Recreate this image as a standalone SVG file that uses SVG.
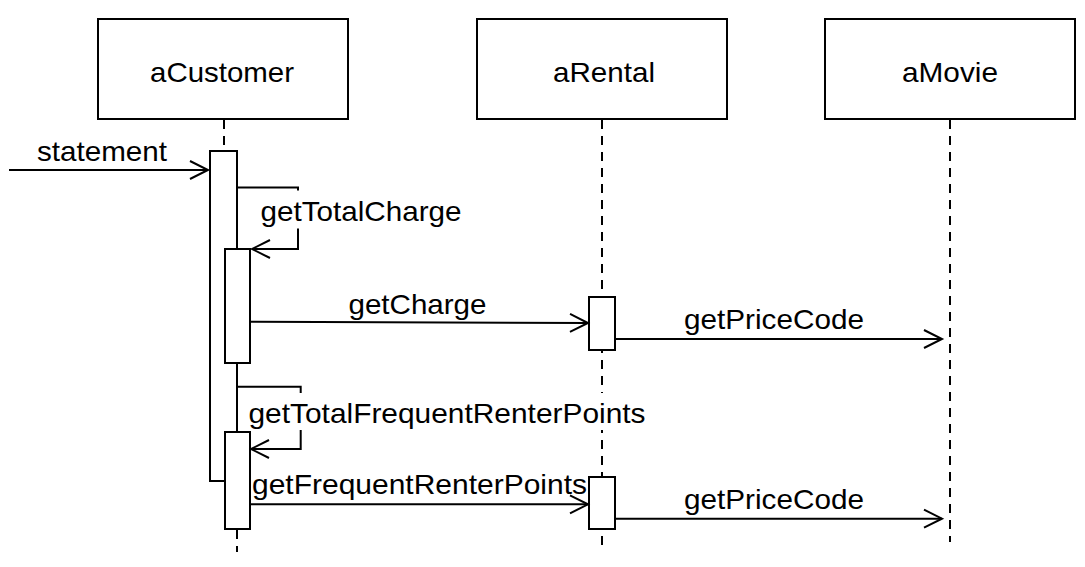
<svg xmlns="http://www.w3.org/2000/svg" width="1085" height="567" viewBox="0 0 1085 567">
<style>
  .box { fill: #fff; stroke: #000; stroke-width: 2; }
  .act { fill: #fff; stroke: #000; stroke-width: 2; }
  .life { fill: none; stroke: #000; stroke-width: 2; stroke-dasharray: 9 7; }
  .msg { fill: none; stroke: #000; stroke-width: 2; marker-end: url(#open); }
  .txt { font-family: "Liberation Sans", Arial, sans-serif; font-size: 28px; fill: #000; }
  .bg { fill: #fff; stroke: none; }
</style>
<defs>
  <marker id="open" markerUnits="userSpaceOnUse" markerWidth="22" markerHeight="22" refX="18" refY="10" orient="auto" overflow="visible">
    <path d="M0,1 L18,10 L0,19" fill="none" stroke="#000" stroke-width="2"/>
  </marker>
</defs>
<rect width="1085" height="567" fill="#fff"/>

<g id="aCustomer">
  <rect class="box" x="98" y="19" width="250" height="100"/>
  <text class="txt" x="222" y="82" text-anchor="middle" textLength="144" lengthAdjust="spacingAndGlyphs">aCustomer</text>
  <line class="life" x1="224" y1="120" x2="224" y2="151"/>
  <line class="life" x1="237" y1="530" x2="237" y2="552"/>
  <rect class="act" x="210" y="151" width="27" height="330"/>
  <rect class="act" x="225" y="249" width="25" height="114"/>
  <rect class="act" x="225" y="432" width="25" height="97"/>
</g>

<g id="aRental">
  <rect class="box" x="477" y="19" width="250" height="100"/>
  <text class="txt" x="604" y="82" text-anchor="middle" textLength="102" lengthAdjust="spacingAndGlyphs">aRental</text>
  <line class="life" x1="602" y1="120" x2="602" y2="552"/>
  <rect class="act" x="589" y="297" width="26" height="53"/>
  <rect class="act" x="589" y="477" width="26" height="52"/>
</g>

<g id="aMovie">
  <rect class="box" x="825" y="19" width="250" height="100"/>
  <text class="txt" x="950" y="82" text-anchor="middle" textLength="96" lengthAdjust="spacingAndGlyphs">aMovie</text>
  <line class="life" x1="950" y1="120" x2="950" y2="542"/>
</g>

<g id="connectors">
  <line class="msg" x1="9" y1="170" x2="208" y2="170"/>
  <path class="msg" d="M237,187.5 H298 V249 H252"/>
  <line class="msg" x1="251" y1="321.7" x2="588" y2="323"/>
  <line class="msg" x1="616" y1="339" x2="942" y2="339"/>
  <path class="msg" d="M237,386.7 H300.7 V449 H251"/>
  <line class="msg" x1="251" y1="504.3" x2="588" y2="504.3"/>
  <line class="msg" x1="616" y1="518.7" x2="942" y2="518.7"/>

  <rect class="bg" x="259.5" y="190.5" width="204" height="38"/>
  <rect class="bg" x="247.5" y="393" width="400" height="37"/>

  <text class="txt" x="37" y="161" textLength="130" lengthAdjust="spacingAndGlyphs">statement</text>
  <text class="txt" x="260.5" y="220.5" textLength="201" lengthAdjust="spacingAndGlyphs">getTotalCharge</text>
  <text class="txt" x="348.5" y="313.5" textLength="138" lengthAdjust="spacingAndGlyphs">getCharge</text>
  <text class="txt" x="684" y="328.5" textLength="180" lengthAdjust="spacingAndGlyphs">getPriceCode</text>
  <text class="txt" x="248.5" y="423" textLength="397" lengthAdjust="spacingAndGlyphs">getTotalFrequentRenterPoints</text>
  <text class="txt" x="252" y="494" textLength="335" lengthAdjust="spacingAndGlyphs">getFrequentRenterPoints</text>
  <text class="txt" x="684" y="508.5" textLength="180" lengthAdjust="spacingAndGlyphs">getPriceCode</text>
</g>
</svg>
